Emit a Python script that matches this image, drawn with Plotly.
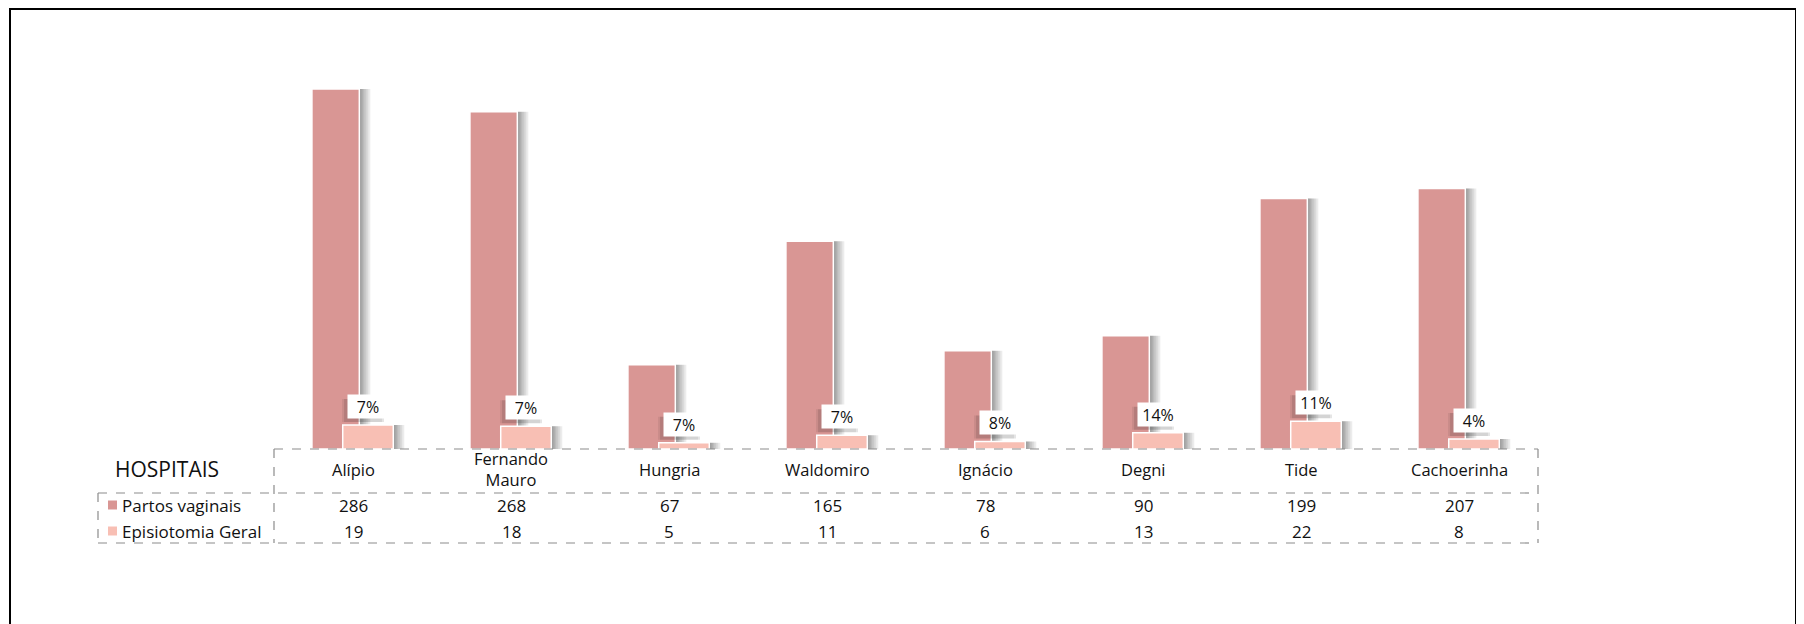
import plotly.graph_objects as go

# ---- data ----
hospitais = ["Alípio", "Fernando Mauro", "Hungria", "Waldomiro", "Ignácio", "Degni", "Tide", "Cachoerinha"]
hospital_labels = ["Alípio", "Fernando<br>Mauro", "Hungria", "Waldomiro", "Ignácio", "Degni", "Tide", "Cachoerinha"]
partos_vaginais = [286, 268, 67, 165, 78, 90, 199, 207]
episiotomia_geral = [19, 18, 5, 11, 6, 13, 22, 8]
series_names = ["Partos vaginais", "Episiotomia Geral"]

percentuais = [round(e / p * 100) for e, p in zip(episiotomia_geral, partos_vaginais)]

# ---- styling / layout constants (page pixel coords; page has 8px body margin) ----
OFF = 8
W, H = 1804 - OFF, 624 - OFF
PLOT_L, PLOT_R, PLOT_T, PLOT_B = 274, 1538, 40, 449   # page px
ML, MR, MT, MB = PLOT_L - OFF, W - (PLOT_R - OFF), PLOT_T - OFF, H - (PLOT_B - OFF)
PW = PLOT_R - PLOT_L
PH = PLOT_B - PLOT_T
C_PARTOS = "#D99694"
C_EPI = "#F8BFB4"
FONT = "Open Sans"
GRID = "#8c8c8c"
TXT = "#111111"

def px_x(px):
    return (px - PLOT_L) / PW

def px_y(py):
    return (PLOT_B - py) / PH

cat_px = 1.0 / (PW / len(hospitais))  # category units per pixel

P_OFF, P_W = -0.26, 0.30
E_OFF, E_W = -0.065, 0.32

fig = go.Figure()

def add_series(vals, color, off, wid, name):
    # soft drop shadow layers (gradient to the right of each bar)
    for k in [11, 9, 7, 5, 3.5, 2]:
        fig.add_trace(go.Bar(
            x=hospitais, y=vals, offset=off + k * cat_px, width=wid,
            marker=dict(color="rgba(0,0,0,0.075)", line=dict(width=0)),
            hoverinfo="skip", showlegend=False))
    fig.add_trace(go.Bar(
        x=hospitais, y=vals, offset=off, width=wid, name=name,
        marker=dict(color=color, line=dict(color="white", width=1.5)),
        showlegend=False))

add_series(partos_vaginais, C_PARTOS, P_OFF, P_W, series_names[0])
add_series(episiotomia_geral, C_EPI, E_OFF, E_W, series_names[1])

annotations = []
shapes = []
epi_center_shift = (E_OFF + E_W / 2) / cat_px
BOX_W, BOX_H, BOX_GAP = 40, 23, 6

# percent labels: white boxes with a soft shadow (shadow = pixel-sized shapes anchored at data)
for h, v, pc in zip(hospitais, episiotomia_geral, percentuais):
    for dx, dy, a in [(-6, -3, 0.07), (-4, -3, 0.10)]:
        shapes.append(dict(
            type="rect", xref="x", yref="y", layer="above",
            xsizemode="pixel", ysizemode="pixel", xanchor=h, yanchor=v,
            x0=epi_center_shift - BOX_W / 2 + dx, x1=epi_center_shift + BOX_W / 2 + dx,
            y0=BOX_GAP + dy, y1=BOX_GAP + BOX_H + dy,
            fillcolor=f"rgba(0,0,0,{a})", line=dict(width=0)))
    annotations.append(dict(
        x=h, y=v, xref="x", yref="y", text=f"{pc}%", showarrow=False,
        xshift=epi_center_shift, yshift=BOX_GAP, yanchor="bottom", xanchor="center",
        font=dict(family=FONT, size=16, color=TXT),
        bgcolor="white", borderpad=0, width=BOX_W, height=BOX_H))

# table: header row
for h, lab in zip(hospitais, hospital_labels):
    annotations.append(dict(
        x=h, y=px_y(469), xref="x", yref="paper", text=lab, showarrow=False,
        xanchor="center", yanchor="middle",
        font=dict(family=FONT, size=16.5, color=TXT)))
annotations.append(dict(
    x=px_x(167), y=px_y(469), xref="paper", yref="paper", text="HOSPITAIS",
    showarrow=False, xanchor="center", yanchor="middle",
    font=dict(family=FONT, size=21, color=TXT)))

# table: data rows
rows = [(partos_vaginais, 505, C_PARTOS, series_names[0]),
        (episiotomia_geral, 531, C_EPI, series_names[1])]
for vals, ypx, col, nm in rows:
    for h, v in zip(hospitais, vals):
        annotations.append(dict(
            x=h, y=px_y(ypx), xref="x", yref="paper", text=str(v), showarrow=False,
            xanchor="center", yanchor="middle",
            font=dict(family=FONT, size=17, color=TXT)))
    annotations.append(dict(
        x=px_x(120), y=px_y(ypx), xref="paper", yref="paper", text=nm,
        showarrow=False, xanchor="left", yanchor="middle",
        font=dict(family=FONT, size=17, color=TXT)))
    shapes.append(dict(type="rect", xref="paper", yref="paper",
                       x0=px_x(108), x1=px_x(117), y0=px_y(ypx + 4.5), y1=px_y(ypx - 4.5),
                       fillcolor=col, line=dict(width=0)))

dash = dict(color=GRID, width=1.2, dash="dash")
def hline(x0, x1, y):
    shapes.append(dict(type="line", xref="paper", yref="paper",
                       x0=px_x(x0), x1=px_x(x1), y0=px_y(y), y1=px_y(y), line=dash))
def vline(x, y0, y1):
    shapes.append(dict(type="line", xref="paper", yref="paper",
                       x0=px_x(x), x1=px_x(x), y0=px_y(y0), y1=px_y(y1), line=dash))

hline(274, 1538, 449)
hline(98, 1538, 493)
hline(98, 1538, 543)
vline(274, 449, 543)
vline(98, 493, 543)
vline(1538, 449, 543)

# outer frame
shapes.append(dict(type="rect", xref="paper", yref="paper",
                   x0=px_x(10), x1=px_x(1796), y0=px_y(700), y1=px_y(9),
                   line=dict(color="black", width=2), fillcolor="rgba(0,0,0,0)", layer="above"))

fig.update_layout(
    width=W, height=H,
    margin=dict(l=ML, r=MR, t=MT, b=MB, pad=0),
    paper_bgcolor="white", plot_bgcolor="white",
    barmode="overlay",
    showlegend=False,
    xaxis=dict(visible=False, range=[-0.5, len(hospitais) - 0.5], fixedrange=True),
    yaxis=dict(visible=False, range=[0, PH / ((449 - 89) / 286)], fixedrange=True),
    annotations=annotations,
    shapes=shapes,
    font=dict(family=FONT),
)

fig.write_html("out.html")
